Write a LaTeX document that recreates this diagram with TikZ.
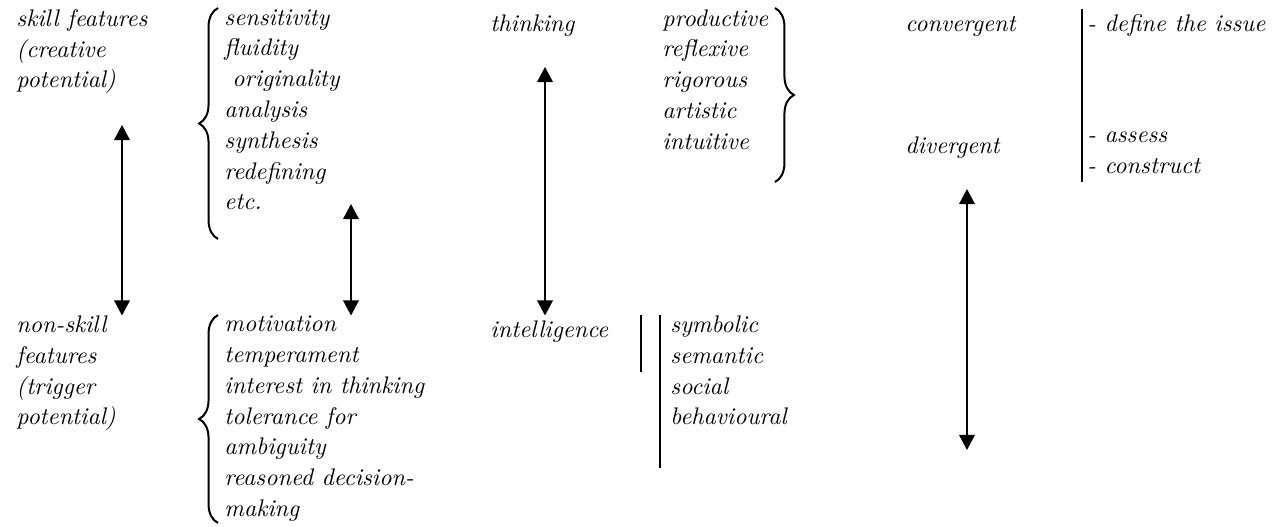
\documentclass[tikz,border=0pt]{standalone}
\usetikzlibrary{arrows.meta}
\usetikzlibrary{decorations.pathreplacing}

\begin{document}
\begin{tikzpicture}
[every node/.style={anchor=north west,inner sep=0pt,align=left,font=\fontsize{10.8}{13.86}\selectfont\itshape,execute at begin node=\strut},
 twoway/.style={{Triangle[width=7pt,length=6.8pt]}-{Triangle[width=7pt,length=6.8pt]},line width=0.9pt},
 curly/.style={decorate,decoration={brace,amplitude=8.5pt},line width=0.9pt},
 bar/.style={line width=0.9pt},x=0.45pt,y=-0.45pt]
%[every node/.style={draw}]
\useasboundingbox (0,0) rectangle (1285,527);
\node (Skill) at (16,9) {skill features\\(creative\\potential)};
\node (NonSkill) at (16,315.5) {non-skill\\features\\(trigger\\potential)};
\node (Abilities) at (224,9) {sensitivity\\fluidity\\\hspace{3.6pt}originality\\analysis\\synthesis\\redefining\\etc.};
\node (Motives) at (224,315.5) {motivation\\temperament\\interest in thinking\\tolerance for\\ambiguity\\reasoned decision-\\making};
\node (Thinking) at (490,9) {thinking};
\node (Intelligence) at (490,315.5) {intelligence};
\node (Kinds) at (662,9) {productive\\reflexive\\rigorous\\artistic\\intuitive};
\node (Contents) at (670,315.5) {symbolic\\semantic\\social\\behavioural};
\node (Convergent) at (905,9) {convergent};
\node (Divergent) at (905,131.5) {divergent};
\node (Define) at (1087,9) {- define the issue};
\node (Assess) at (1087,131.5) {- assess\\- construct};
\coordinate (SkillEnd) at (122,125);
\coordinate (AbilEnd) at (351,204);
\coordinate (ThinkEnd) at (545,67);
\coordinate (DivTop) at (967,189);
\coordinate (DivBottom) at (967,450);
\draw[twoway] (SkillEnd) -- (NonSkill.north -| SkillEnd);
\draw[twoway] (AbilEnd) -- (Motives.north -| AbilEnd);
\draw[twoway] (ThinkEnd) -- (Intelligence.north -| ThinkEnd);
\draw[twoway] (DivTop) -- (DivBottom);
\draw[curly] (218,239) -- (218,8);
\draw[curly] (218,523) -- (218,315);
\draw[curly] (775,8) -- (775,182);
\draw[bar] (641,315) -- (641,372);
\draw[bar] (660,315) -- (660,468);
\draw[bar] (1082,9) -- (1082,182);
\end{tikzpicture}
\end{document}
